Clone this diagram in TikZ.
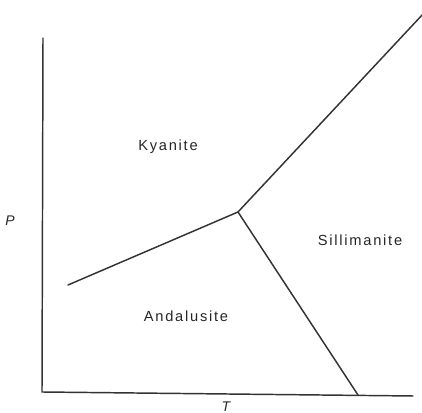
\documentclass[tikz,border=0pt]{standalone}
\usepackage{fontspec}
\newfontfamily\labelfont[LetterSpace=12]{Liberation Sans}
\usepackage{tikz}

\begin{document}
\begin{tikzpicture}[x=0.75pt,y=0.75pt]
		\useasboundingbox (0,0) rectangle (422,413);
		\tikzset{phase/.style={font=\labelfont\fontsize{11}{13}\selectfont,text=black!85},
			boundary/.style={line width=1.1pt,black!80,line cap=round}}
		% axes
		\coordinate (top) at (43,375);
		\coordinate (origin) at (42,21);
		\coordinate (right) at (413,17);
		\draw[boundary] (top) -- (origin) -- (right);
		% phase boundaries
		\coordinate (triple) at (238,201);
		\coordinate (lowleft) at (68,128);
		\coordinate (upright) at (424,400);
		\coordinate (bottom) at (358,18);
		\draw[boundary] (lowleft) -- (triple) -- (upright);
		\draw[boundary] (triple) -- (bottom);
		% fields
		\node[phase] (kya) at (168,266) {Kyanite};
		\node[phase] (sil) at (360,173) {Sillimanite};
		\node[phase] (and) at (186,97) {Andalusite};
		\node[phase,font=\labelfont\itshape\fontsize{10.5}{12}\selectfont] (pres) at (10,192) {P};
		\node[phase,font=\labelfont\itshape\fontsize{10.5}{12}\selectfont,anchor=base,inner sep=0pt] (temp) at (226,1.5) {T};
	\end{tikzpicture}
\end{document}
